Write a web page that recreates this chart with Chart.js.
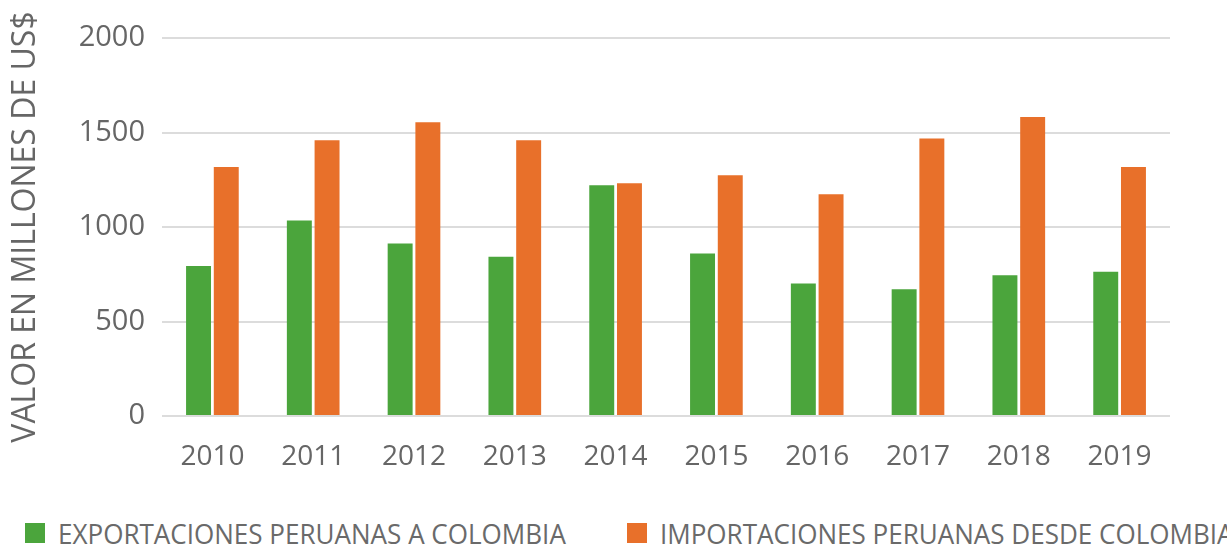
<!DOCTYPE html>
<html>
<head>
<meta charset="utf-8">
<script src="https://cdn.jsdelivr.net/npm/chart.js@4/dist/chart.umd.min.js"></script>
<style>
    html, body { margin: 0; padding: 0; background: #fff; }
    #wrap { position: relative; width: 1227px; height: 544px; overflow: hidden; }
    #box { position: absolute; left: 0; top: 0; width: 1227px; height: 495px; }
    #legend { position: absolute; left: 0; top: 514px; width: 1227px; height: 38px; }
    .item { position: absolute; top: 0; height: 38px; display: flex; align-items: center; white-space: nowrap;
            font-family: "Open Sans", sans-serif; font-size: 28px; color: #6a6a6a; }
    .swatch { width: 20px; height: 20px; margin-right: 13px; flex: none; }
    .txt { display: inline-block; transform: scaleX(0.93); transform-origin: left center; }
</style>
</head>
<body>
<div id="wrap">
    <div id="box"><canvas id="chart"></canvas></div>
    <div id="legend"></div>
</div>
<script>
    const years = ['2010', '2011', '2012', '2013', '2014', '2015', '2016', '2017', '2018', '2019'];
    const exportaciones = [793, 1035, 913, 842, 1221, 860, 701, 670, 745, 763];
    const importaciones = [1318, 1459, 1554, 1459, 1232, 1274, 1173, 1468, 1582, 1318];
    const yTicks = [0, 500, 1000, 1500, 2000];

    const labelExport = 'EXPORTACIONES PERUANAS A COLOMBIA';
    const labelImport = 'IMPORTACIONES PERUANAS DESDE COLOMBIA';
    const greenColor = '#4ba53c';
    const orangeColor = '#e8702a';
    const textColor = '#666';

    let chart = new Chart(document.getElementById('chart'), {
        type: 'bar',
        data: {
            labels: years,
            datasets: [{
                label: labelExport,
                data: exportaciones,
                backgroundColor: greenColor
            }, {
                label: labelImport,
                data: importaciones,
                backgroundColor: orangeColor
            }]
        },
        options: {
            responsive: true,
            maintainAspectRatio: false,
            animation: false,
            categoryPercentage: 0.55,
            barPercentage: 0.9,
            layout: {
                padding: { top: 38, right: 57, left: 0, bottom: 0 }
            },
            plugins: {
                legend: { display: false },
                tooltip: { enabled: false }
            },
            scales: {
                x: {
                    grid: { display: false },
                    border: { display: false },
                    ticks: {
                        color: textColor,
                        padding: 16,
                        font: { family: 'Open Sans', size: 28 }
                    },
                    afterFit(axis) { axis.height = 79; }
                },
                y: {
                    min: 0,
                    max: 2000,
                    afterBuildTicks(axis) {
                        axis.ticks = yTicks.map(v => ({ value: v }));
                    },
                    grid: { color: '#dcdcdc', lineWidth: 2, drawTicks: false },
                    border: { display: false },
                    ticks: {
                        color: textColor,
                        padding: 17,
                        font: { family: 'Open Sans', size: 29 },
                        callback: (v) => String(v)
                    },
                    title: {
                        display: true,
                        text: 'VALOR EN MILLONES DE US$',
                        color: textColor,
                        padding: { top: 7, bottom: 0 },
                        font: { family: 'Open Sans', size: 32 }
                    },
                    afterFit(axis) { axis.width = 162; }
                }
            }
        }
    });

    // html legend, items spread like the original
    const legendEl = document.getElementById('legend');
    const itemLeft = [25, 627];
    chart.data.datasets.forEach((ds, i) => {
        const item = document.createElement('div');
        item.className = 'item';
        item.style.left = itemLeft[i] + 'px';
        const sw = document.createElement('span');
        sw.className = 'swatch';
        sw.style.background = ds.backgroundColor;
        const txt = document.createElement('span');
        txt.className = 'txt';
        txt.textContent = ds.label;
        item.appendChild(sw);
        item.appendChild(txt);
        legendEl.appendChild(item);
    });
</script>
</body>
</html>
